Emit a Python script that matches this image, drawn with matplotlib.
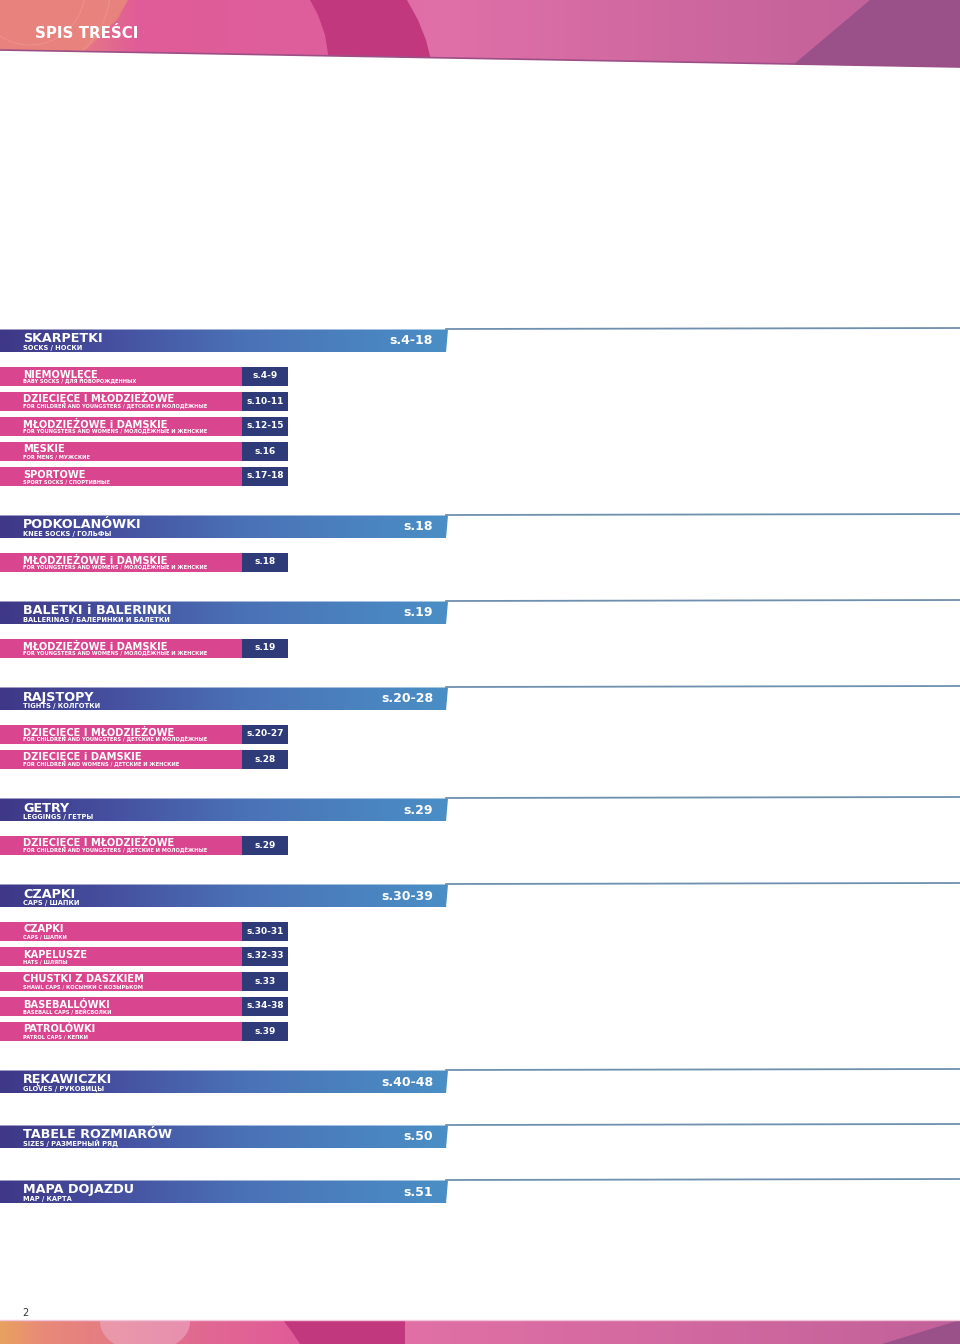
import numpy as np
from matplotlib import pyplot as plt
from matplotlib.patches import Polygon, Rectangle
from matplotlib.colors import LinearSegmentedColormap

# table of contents data
main_titles = ["SKARPETKI", "PODKOLANÓWKI", "BALETKI i BALERINKI", "RAJSTOPY", "GETRY",
               "CZAPKI", "RĘKAWICZKI", "TABELE ROZMIARÓW", "MAPA DOJAZDU"]
main_subtitles = ["SOCKS / НОСКИ", "KNEE SOCKS / ГОЛЬФЫ", "BALLERINAS / БАЛЕРИНКИ И БАЛЕТКИ",
                  "TIGHTS / КОЛГОТКИ", "LEGGINGS / ГЕТРЫ", "CAPS / ШАПКИ", "GLOVES / РУКОВИЦЫ",
                  "SIZES / РАЗМЕРНЫЙ РЯД", "MAP / КАРТА"]
main_pages = ["s.4-18", "s.18", "s.19", "s.20-28", "s.29", "s.30-39", "s.40-48", "s.50", "s.51"]

sub_titles = [
    ["NIEMOWLĘCE", "DZIECIĘCE I MŁODZIEŻOWE", "MŁODZIEŻOWE i DAMSKIE", "MĘSKIE", "SPORTOWE"],
    ["MŁODZIEŻOWE i DAMSKIE"],
    ["MŁODZIEŻOWE i DAMSKIE"],
    ["DZIECIĘCE I MŁODZIEŻOWE", "DZIECIĘCE i DAMSKIE"],
    ["DZIECIĘCE I MŁODZIEŻOWE"],
    ["CZAPKI", "KAPELUSZE", "CHUSTKI Z DASZKIEM", "BASEBALLÓWKI", "PATROLÓWKI"],
    [], [], [],
]
sub_subtitles = [
    ["BABY SOCKS / ДЛЯ НОВОРОЖДЕННЫХ", "FOR CHILDREN AND YOUNGSTERS / ДЕТСКИЕ И МОЛОДЁЖНЫЕ",
     "FOR YOUNGSTERS AND WOMENS / МОЛОДЁЖНЫЕ И ЖЕНСКИЕ", "FOR MENS / МУЖСКИЕ",
     "SPORT SOCKS / СПОРТИВНЫЕ"],
    ["FOR YOUNGSTERS AND WOMENS / МОЛОДЁЖНЫЕ И ЖЕНСКИЕ"],
    ["FOR YOUNGSTERS AND WOMENS / МОЛОДЁЖНЫЕ И ЖЕНСКИЕ"],
    ["FOR CHILDREN AND YOUNGSTERS / ДЕТСКИЕ И МОЛОДЁЖНЫЕ", "FOR CHILDREN AND WOMENS / ДЕТСКИЕ И ЖЕНСКИЕ"],
    ["FOR CHILDREN AND YOUNGSTERS / ДЕТСКИЕ И МОЛОДЁЖНЫЕ"],
    ["CAPS / ШАПКИ", "HATS / ШЛЯПЫ", "SHAWL CAPS / КОСЫНКИ С КОЗЫРЬКОМ",
     "BASEBALL CAPS / БЕЙСБОЛКИ", "PATROL CAPS / КЕПКИ"],
    [], [], [],
]
sub_pages = [
    ["s.4-9", "s.10-11", "s.12-15", "s.16", "s.17-18"],
    ["s.18"], ["s.19"], ["s.20-27", "s.28"], ["s.29"],
    ["s.30-31", "s.32-33", "s.33", "s.34-38", "s.39"],
    [], [], [],
]

W, H = 960, 1344
fig = plt.figure(figsize=(W / 100, H / 100), dpi=100)
ax = fig.add_axes([0, 0, 1, 1])
ax.set_xlim(0, W)
ax.set_ylim(H, 0)
ax.axis("off")

FONT = "DejaVu Sans"


def gradient(poly, colors, x0, x1, y0, y1, z=1):
    # horizontal gradient clipped to a polygon
    cmap = LinearSegmentedColormap.from_list("g", colors)
    clip = Polygon(poly, closed=True, facecolor="none", edgecolor="none", transform=ax.transData)
    ax.add_patch(clip)
    im = ax.imshow(np.linspace(0, 1, 256).reshape(1, -1), cmap=cmap, extent=(x0, x1, y1, y0),
                   aspect="auto", zorder=z, interpolation="bilinear")
    im.set_clip_path(clip)
    return clip


# ---- header band
hdr = [(0, 0), (W, 0), (W, 67), (0, 50)]
hclip = gradient(hdr, [(0, "#e98a7c"), (0.1, "#e4708a"), (0.14, "#e05c98"), (0.33, "#dd5f9c"),
                       (0.45, "#e070a8"), (0.82, "#c8649c"), (1, "#c0609a")], 0, W, 0, 67)
shapes = [
    ([(0, 0), (128, 0), (118, 18), (100, 36), (84, 52), (0, 52)], "#e8827c"),
    ([(310, 0), (407, 0), (418, 20), (426, 40), (431, 60), (329, 60), (325, 35), (318, 15)], "#c1387f"),
    ([(870, 0), (W, 0), (W, 70), (787, 70)], "#9a5088"),
]
for pts, c in shapes:
    p = Polygon(pts, closed=True, facecolor=c, edgecolor="none", zorder=2)
    ax.add_patch(p)
    p.set_clip_path(hclip)
for r in (55, 80):
    t = np.linspace(0, np.pi, 60)
    ln, = ax.plot(30 + r * np.cos(t), -10 + r * np.sin(t), color="#f0a0a0", lw=0.6, alpha=0.6, zorder=3)
    ln.set_clip_path(hclip)
ax.plot([0, W], [50, 67], color="#9b4f86", lw=1.2, zorder=4)
ax.text(35, 38, "SPIS TREŚCI", color="white", fontsize=10.8, fontweight="bold",
        family=FONT, va="baseline", ha="left", zorder=5)

# ---- footer band
ftr = [(0, 1320), (W, 1320), (W, H), (0, H)]
fclip = gradient(ftr, [(0, "#e8a060"), (0.04, "#e88a78"), (0.2, "#e06a90"), (0.3, "#e05c98"),
                       (0.43, "#e070a5"), (0.9, "#c8649c"), (1, "#c0609a")], 0, W, 1320, H)
fshapes = [
    ([(283, 1320), (405, 1320), (405, H), (300, H), (292, 1332)], "#c1387f"),
    ([(960, 1320), (W, H), (882, H)], "#9a5088"),
]
for pts, c in fshapes:
    p = Polygon(pts, closed=True, facecolor=c, edgecolor="none", zorder=2)
    ax.add_patch(p)
    p.set_clip_path(fclip)
t = np.linspace(0, 2 * np.pi, 80)
circ = Polygon(np.c_[145 + 45 * np.cos(t), 1322 + 30 * np.sin(t)], closed=True,
               facecolor="#eeb0cc", edgecolor="none", alpha=0.55, zorder=2)
ax.add_patch(circ)
circ.set_clip_path(fclip)
ax.plot([0, W], [1320, 1320], color="#f2c6da", lw=1.0, zorder=4)
ax.text(25, 1313, "2", color="#333333", fontsize=7, family=FONT, ha="center", va="center")

# ---- table of contents
main_cols = [(0, "#3f3787"), (0.25, "#4650a0"), (0.55, "#4a72b6"), (1, "#4a8fc6")]
pink = "#d9468f"
navy = "#2f3a78"

y = 341
for i, title in enumerate(main_titles):
    top, bot = y - 11.5, y + 11.5
    gradient([(0, top), (448, top), (446, bot), (0, bot)], main_cols, 0, 448, top, bot, z=2)
    ax.plot([446, W], [top - 0.5, top - 1.5], color="#6f8fae", lw=1.3, zorder=3)
    ax.text(23, top + 13, title, color="white", fontsize=9.2, fontweight="bold",
            family=FONT, va="baseline", ha="left", zorder=5)
    ax.text(23, top + 20.5, main_subtitles[i], color="white", fontsize=4.8, fontweight="bold",
            family=FONT, va="baseline", ha="left", zorder=5)
    ax.text(433, y, main_pages[i], color="white", fontsize=9, fontweight="bold",
            family=FONT, va="center", ha="right", zorder=5)

    subs = sub_titles[i]
    for k, st in enumerate(subs):
        cy = y + 35 + 25 * k
        stop = cy - 9.5
        ax.add_patch(Rectangle((0, stop), 242, 19, facecolor=pink, edgecolor="none", zorder=2))
        ax.add_patch(Rectangle((242, stop), 46, 19, facecolor=navy, edgecolor="none", zorder=2))
        ax.text(23, stop + 11, st, color="white", fontsize=7.1, fontweight="bold",
                family=FONT, va="baseline", ha="left", zorder=5)
        ax.text(23, stop + 16.8, sub_subtitles[i][k], color="white", fontsize=3.7, fontweight="bold",
                family=FONT, va="baseline", ha="left", zorder=5)
        ax.text(265, cy, sub_pages[i][k], color="white", fontsize=6.5, fontweight="bold",
                family=FONT, va="center", ha="center", zorder=5)
    if subs:
        y = y + 35 + 25 * (len(subs) - 1) + 51
    else:
        y = y + 55

plt.savefig("out.png", dpi=100)
